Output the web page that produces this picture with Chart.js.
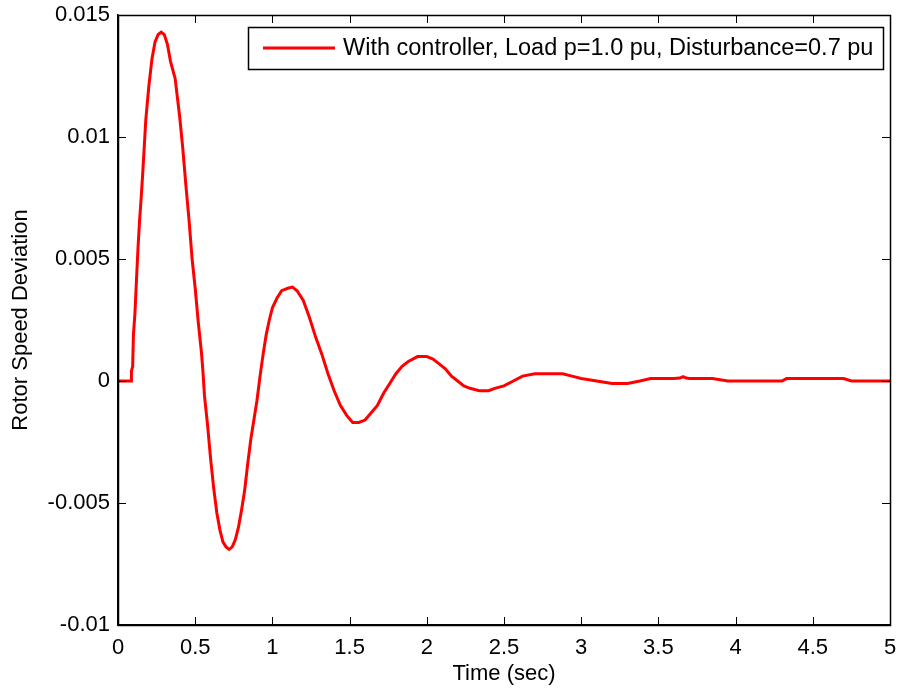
<!DOCTYPE html>
<html>
<head>
<meta charset="utf-8">
<script src="https://cdn.jsdelivr.net/npm/chart.js@4/dist/chart.umd.min.js"></script>
<style>
  html, body { margin: 0; padding: 0; background: #fff; }
  #wrap { width: 901px; height: 694px; }
</style>
</head>
<body>
<div id="wrap"><canvas id="c" width="901" height="694"></canvas></div>
<script>
const seriesLabel = 'With controller, Load p=1.0 pu, Disturbance=0.7 pu';
const timeValues = [
  0, 0.085, 0.087, 0.095, 0.1, 0.11, 0.12, 0.13, 0.14, 0.15, 0.16, 0.17, 0.18, 0.2, 0.22, 0.24, 0.26, 0.28, 0.3, 0.32,
  0.34, 0.37, 0.4, 0.42, 0.44, 0.46, 0.48, 0.5, 0.52, 0.54, 0.55, 0.56, 0.58, 0.6, 0.62, 0.64, 0.66, 0.68, 0.7, 0.72,
  0.74, 0.76, 0.78, 0.8, 0.82, 0.84, 0.86, 0.88, 0.9, 0.92, 0.94, 0.96, 0.98, 1.0, 1.03, 1.06, 1.1, 1.13, 1.16, 1.2,
  1.24, 1.28, 1.32, 1.36, 1.4, 1.44, 1.48, 1.52, 1.56, 1.6, 1.64, 1.68, 1.72, 1.76, 1.8, 1.84, 1.88, 1.94, 2.0, 2.04,
  2.08, 2.12, 2.16, 2.2, 2.24, 2.28, 2.34, 2.4, 2.44, 2.5, 2.56, 2.62, 2.7, 2.8, 2.88, 2.94, 3.0, 3.1, 3.2, 3.3,
  3.38, 3.45, 3.6, 3.64, 3.66, 3.68, 3.7, 3.85, 3.95, 4.3, 4.33, 4.7, 4.75, 5.0
];
const speedDeviation = [
  0, 0, 0.0004, 0.0006, 0.0019, 0.0028, 0.0042, 0.0055, 0.0066, 0.0075, 0.0085, 0.0096, 0.0107, 0.0121, 0.0132, 0.0139, 0.0142, 0.0143, 0.0142, 0.0138,
  0.0131, 0.0124, 0.0108, 0.0095, 0.0080, 0.0066, 0.0050, 0.0038, 0.0024, 0.0012, 0.0004, -0.0006, -0.0018, -0.0032, -0.0044, -0.0054, -0.0061, -0.0066, -0.0068, -0.0069,
  -0.0068, -0.0065, -0.0060, -0.0053, -0.0045, -0.0034, -0.0024, -0.0016, -0.0008, 0.0002, 0.0011, 0.0019, 0.0025, 0.0030, 0.0034, 0.0037, 0.0038, 0.00385, 0.0037, 0.0033,
  0.0026, 0.0018, 0.0011, 0.0003, -0.0004, -0.0010, -0.0014, -0.0017, -0.0017, -0.0016, -0.0013, -0.0010, -0.0005, -0.0001, 0.0003, 0.0006, 0.0008, 0.0010, 0.0010, 0.0009,
  0.0007, 0.0005, 0.0002, 0.0000, -0.0002, -0.0003, -0.0004, -0.0004, -0.0003, -0.0002, 0.0000, 0.0002, 0.0003, 0.0003, 0.0003, 0.0002, 0.0001, 0.0000, -0.0001, -0.0001,
  0.0000, 0.0001, 0.0001, 0.00012, 0.00018, 0.00012, 0.0001, 0.0001, 0.0000, 0.0000, 0.0001, 0.0001, 0.0000, 0.0000
];
const xTickLabels = ['0', '0.5', '1', '1.5', '2', '2.5', '3', '3.5', '4', '4.5', '5'];
const yTickLabels = ['-0.01', '-0.005', '0', '0.005', '0.01', '0.015'];
const xTitle = 'Time (sec)';
const yTitle = 'Rotor Speed Deviation';

const FONT = 'Liberation Sans, Arial, sans-serif';
const points = timeValues.map((t, i) => ({ x: t, y: speedDeviation[i] }));

const frameTicks = {
  id: 'frameTicks',
  afterDraw(chart) {
    const { ctx, chartArea: a, scales } = chart;
    const len = 8;
    ctx.save();
    ctx.strokeStyle = '#000';
    ctx.lineWidth = 1;
    ctx.beginPath();
    scales.x.ticks.forEach(t => {
      const px = Math.round(scales.x.getPixelForValue(t.value)) + 0.5;
      ctx.moveTo(px, a.bottom); ctx.lineTo(px, a.bottom - len);
      ctx.moveTo(px, a.top); ctx.lineTo(px, a.top + len);
    });
    scales.y.ticks.forEach(t => {
      const py = Math.round(scales.y.getPixelForValue(t.value)) + 0.5;
      ctx.moveTo(a.left, py); ctx.lineTo(a.left + len, py);
      ctx.moveTo(a.right, py); ctx.lineTo(a.right - len, py);
    });
    ctx.stroke();
    ctx.lineWidth = 1.5;
    ctx.strokeRect(Math.round(a.left) + 0.5, Math.round(a.top) + 0.5, Math.round(a.right - a.left), Math.round(a.bottom - a.top));
    // legend box
    const ds = chart.data.datasets[0];
    ctx.font = '23.5px ' + FONT;
    const tw = ctx.measureText(ds.label).width;
    const lineLen = 72, gap = 8, padL = 15, padR = 10;
    const boxW = Math.round(padL + lineLen + gap + tw + padR);
    const boxH = 42;
    const bx = Math.round(a.right - 7 - boxW);
    const by = Math.round(a.top + 12);
    ctx.fillStyle = '#fff';
    ctx.fillRect(bx, by, boxW, boxH);
    ctx.lineWidth = 1.5;
    ctx.strokeStyle = '#000';
    ctx.strokeRect(bx + 0.5, by + 0.5, boxW, boxH);
    const ly = by + boxH / 2;
    ctx.strokeStyle = ds.borderColor;
    ctx.lineWidth = ds.borderWidth;
    ctx.beginPath();
    ctx.moveTo(bx + padL, ly); ctx.lineTo(bx + padL + lineLen, ly);
    ctx.stroke();
    ctx.fillStyle = '#000';
    ctx.textBaseline = 'middle';
    ctx.textAlign = 'left';
    ctx.fillText(ds.label, bx + padL + lineLen + gap, ly + 1);
    ctx.restore();
  }
};

new Chart(document.getElementById('c'), {
  type: 'line',
  data: {
    datasets: [{
      label: seriesLabel,
      data: points,
      borderColor: '#ff0000',
      borderWidth: 3,
      pointRadius: 0,
      tension: 0,
      fill: false
    }]
  },
  options: {
    responsive: false,
    animation: false,
    events: [],
    layout: { padding: { left: 0, right: 11, top: 15, bottom: 0 } },
    plugins: { legend: { display: false }, tooltip: { enabled: false } },
    scales: {
      x: {
        type: 'linear',
        min: 0, max: 5,
        afterFit(s) { s.height = 69; s.paddingLeft = 0; s.paddingRight = 0; },
        grid: { display: false, drawTicks: false },
        border: { display: true, color: '#000', width: 1.5 },
        ticks: {
          stepSize: 0.5,
          padding: 10,
          color: '#000',
          font: { family: FONT, size: 22 },
          maxRotation: 0,
          autoSkip: false,
          callback: (v, i) => xTickLabels[i]
        },
        title: {
          display: true, text: xTitle, color: '#000',
          font: { family: FONT, size: 22 },
          padding: { top: 0, bottom: 7 }
        }
      },
      y: {
        type: 'linear',
        min: -0.01, max: 0.015,
        afterFit(s) { s.width = 118; s.paddingTop = 0; s.paddingBottom = 0; },
        grid: { display: false, drawTicks: false },
        border: { display: true, color: '#000', width: 1.5 },
        ticks: {
          stepSize: 0.005,
          padding: 8,
          color: '#000',
          font: { family: FONT, size: 22 },
          autoSkip: false,
          callback: (v, i) => yTickLabels[i]
        },
        title: {
          display: true, text: yTitle, color: '#000',
          font: { family: FONT, size: 22 },
          padding: { top: 8, bottom: 0 }
        }
      }
    }
  },
  plugins: [frameTicks]
});
</script>
</body>
</html>
